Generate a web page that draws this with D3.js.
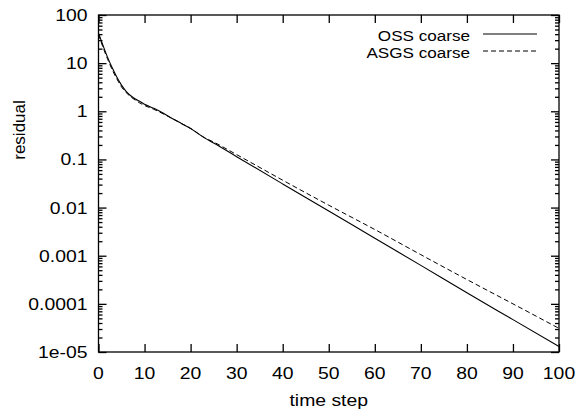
<!DOCTYPE html>
<html>
<head>
<meta charset="utf-8">
<script src="https://cdn.jsdelivr.net/npm/d3@7"></script>
<style>
  body { margin: 0; background: #fff; }
  svg text { font-family: "Liberation Sans", Arial, sans-serif; fill: #000; }
</style>
</head>
<body>
<div class="canvas"></div>
<script>
// values
var steps = [0, 1, 2, 3, 4, 5, 6, 7, 8, 9, 10, 12, 14, 16, 18, 20, 23, 25, 30, 40, 50, 60, 70, 80, 90, 100];
var ossCoarse = [42, 23, 13, 7.9, 5.1, 3.5, 2.6, 2.1, 1.8, 1.6, 1.4, 1.15, 0.92, 0.71, 0.56, 0.44, 0.28, 0.22, 0.114, 0.031, 0.0085, 0.0023, 0.00063, 0.00017, 0.000047, 0.000013];
var asgsCoarse = [40, 21, 12, 7.2, 4.7, 3.2, 2.45, 2.0, 1.7, 1.48, 1.32, 1.1, 0.89, 0.71, 0.56, 0.44, 0.285, 0.23, 0.126, 0.037, 0.0112, 0.0035, 0.00105, 0.00032, 0.0001, 0.000031];
var xTicks = [0, 10, 20, 30, 40, 50, 60, 70, 80, 90, 100];
var yTicks = [100, 10, 1, 0.1, 0.01, 0.001, 0.0001, 0.00001];
var yTickLabels = ['100', '10', '1', '0.1', '0.01', '0.001', '0.0001', '1e-05'];
var seriesNames = ['OSS coarse', 'ASGS coarse'];

var width = 576;
var height = 414;
// plot frame (window.top is taken, so no plain "top")
var pLeft = 98.5, pRight = 559, pTop = 15, pBottom = 352;
var stretch = 1.14; // the scanned lettering is a bit wider than Arial

var svg = d3.select('.canvas')
  .append('svg')
  .attr('width', width)
  .attr('height', height);

var xscale = d3.scaleLinear().domain([0, 100]).range([pLeft, pRight]);
var yscale = d3.scaleLog().domain([0.00001, 100]).range([pBottom, pTop]);

// minor ticks 2..9 in every decade
var minor = [];
for (var e = -5; e < 2; e++) {
  for (var m = 2; m < 10; m++) minor.push(m * Math.pow(10, e));
}

var axisStroke = 1.3;

function noDomain(g) { g.select('.domain').remove(); }

// y axis left + mirrored right
svg.append('g')
  .attr('transform', 'translate(' + pLeft + ',0)')
  .call(d3.axisRight(yscale).tickValues(yTicks).tickSize(8).tickFormat(''))
  .call(noDomain);
svg.append('g')
  .attr('transform', 'translate(' + pLeft + ',0)')
  .call(d3.axisRight(yscale).tickValues(minor).tickSize(4).tickFormat(''))
  .call(noDomain);
svg.append('g')
  .attr('transform', 'translate(' + pRight + ',0)')
  .call(d3.axisLeft(yscale).tickValues(yTicks).tickSize(8).tickFormat(''))
  .call(noDomain);
svg.append('g')
  .attr('transform', 'translate(' + pRight + ',0)')
  .call(d3.axisLeft(yscale).tickValues(minor).tickSize(4).tickFormat(''))
  .call(noDomain);

// x axis bottom + mirrored top
svg.append('g')
  .attr('transform', 'translate(0,' + pBottom + ')')
  .call(d3.axisTop(xscale).tickValues(xTicks).tickSize(8).tickFormat(''))
  .call(noDomain);
svg.append('g')
  .attr('transform', 'translate(0,' + pTop + ')')
  .call(d3.axisBottom(xscale).tickValues(xTicks).tickSize(8).tickFormat(''))
  .call(noDomain);

svg.selectAll('.tick line').attr('stroke', '#000').attr('stroke-width', axisStroke);

// frame
svg.append('rect')
  .attr('x', pLeft).attr('y', pTop)
  .attr('width', pRight - pLeft).attr('height', pBottom - pTop)
  .attr('fill', 'none').attr('stroke', '#000').attr('stroke-width', axisStroke);

// tick labels
svg.selectAll('.ylab')
  .data(yTicks)
  .enter().append('text')
  .attr('transform', function(d) {
    return 'translate(' + (pLeft - 11) + ',' + (yscale(d) + 6) + ') scale(' + stretch + ',1)';
  })
  .attr('text-anchor', 'end')
  .style('font-size', '17px')
  .text(function(d, i) { return yTickLabels[i]; });

svg.selectAll('.xlab')
  .data(xTicks)
  .enter().append('text')
  .attr('transform', function(d) {
    return 'translate(' + xscale(d) + ',' + (pBottom + 27) + ') scale(' + stretch + ',1)';
  })
  .attr('text-anchor', 'middle')
  .style('font-size', '17px')
  .text(function(d) { return d; });

// axis titles
svg.append('text')
  .attr('transform', 'translate(' + ((pLeft + pRight) / 2) + ',406) scale(' + stretch + ',1)')
  .attr('text-anchor', 'middle')
  .style('font-size', '17px')
  .text('time step');

svg.append('text')
  .attr('transform', 'translate(25,130) rotate(-90)')
  .attr('text-anchor', 'middle')
  .style('font-size', '17px')
  .text('residual');

// series
var line = d3.line()
  .x(function(d) { return xscale(d[0]); })
  .y(function(d) { return yscale(d[1]); })
  .curve(d3.curveMonotoneX);

var ossPts = steps.map(function(s, i) { return [s, ossCoarse[i]]; });
var asgsPts = steps.map(function(s, i) { return [s, asgsCoarse[i]]; });

svg.append('path')
  .datum(asgsPts)
  .attr('d', line)
  .attr('fill', 'none')
  .attr('stroke', '#000')
  .attr('stroke-width', 1)
  .attr('stroke-dasharray', '5,3');

svg.append('path')
  .datum(ossPts)
  .attr('d', line)
  .attr('fill', 'none')
  .attr('stroke', '#000')
  .attr('stroke-width', 1.1);

// legend
var legY = [35, 52];
var dashes = [null, '5,3'];
seriesNames.forEach(function(name, i) {
  svg.append('text')
    .attr('transform', 'translate(470,' + (legY[i] + 5.5) + ') scale(' + stretch + ',1)')
    .attr('text-anchor', 'end')
    .style('font-size', '15px')
    .text(name);
  svg.append('line')
    .attr('x1', 483).attr('x2', 537)
    .attr('y1', legY[i] - 1).attr('y2', legY[i] - 1)
    .attr('stroke', '#000')
    .attr('stroke-width', 1)
    .attr('stroke-dasharray', dashes[i]);
});
</script>
</body>
</html>
